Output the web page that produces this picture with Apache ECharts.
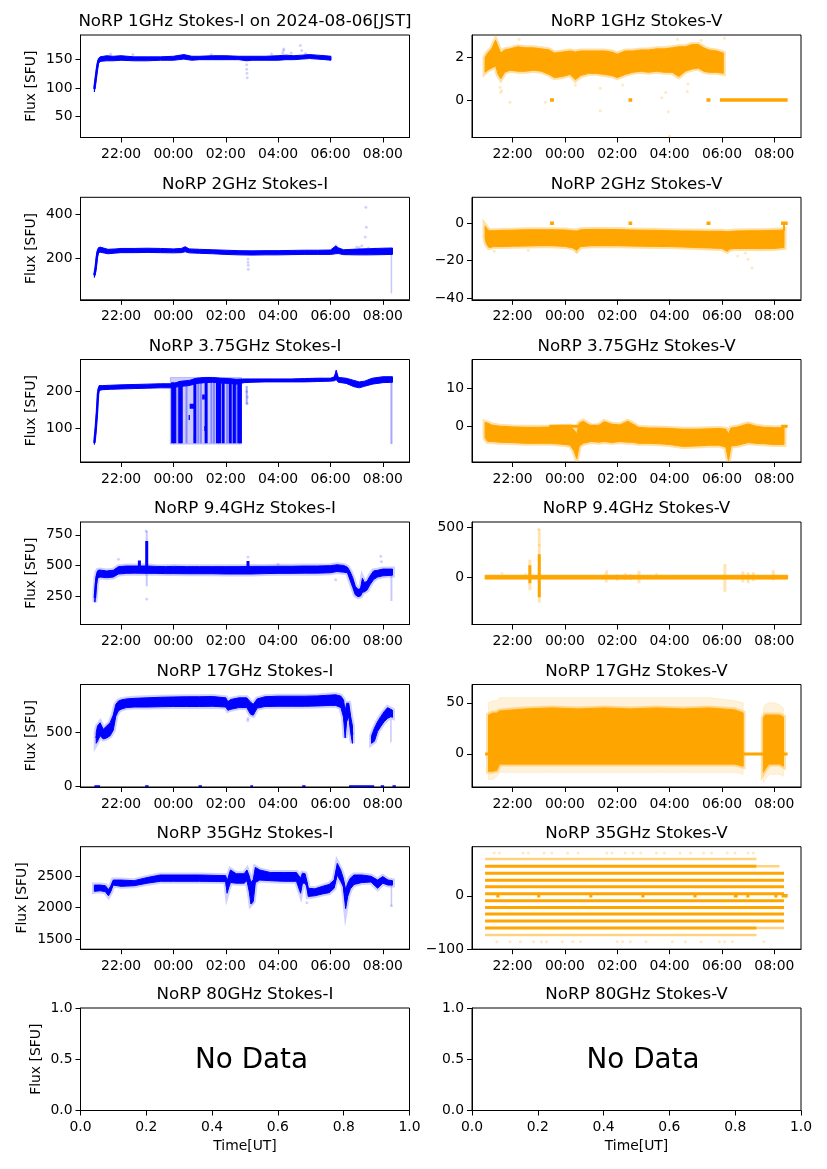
<!DOCTYPE html>
<html><head><meta charset="utf-8">
<script src="https://cdn.jsdelivr.net/npm/echarts@6/dist/echarts.min.js"></script>
<style>html,body{margin:0;padding:0;background:#fff}#c{width:827px;height:1169px}</style>
</head><body><div id="c"></div>
<script>
// ---------------- DATA (time in hours UT, 24 = 00:00 next day) ----------------
const TIME_TICKS = [22, 24, 26, 28, 30, 32];
const UNIT_TICKS_X = [0, 0.2, 0.4, 0.6, 0.8, 1.0];
const UNIT_TICKS_Y = [0, 0.5, 1.0];
const TITLES = ['NoRP 1GHz Stokes-I on 2024-08-06[JST]', 'NoRP 1GHz Stokes-V',
  'NoRP 2GHz Stokes-I', 'NoRP 2GHz Stokes-V', 'NoRP 3.75GHz Stokes-I', 'NoRP 3.75GHz Stokes-V',
  'NoRP 9.4GHz Stokes-I', 'NoRP 9.4GHz Stokes-V', 'NoRP 17GHz Stokes-I', 'NoRP 17GHz Stokes-V',
  'NoRP 35GHz Stokes-I', 'NoRP 35GHz Stokes-V', 'NoRP 80GHz Stokes-I', 'NoRP 80GHz Stokes-V'];
const Y_RANGES = [[12.5,193.6],[-1.76,3.05],[12,475],[-41,13.9],[9.7,286.5],[-9.4,17.5],[18,854],[-470,550],
  [-3,943],[-32.4,67.9],[1341,2970],[-100.5,92.5],[0,1],[0,1]];
const Y_TICKS = [[50,100,150],[0,2],[200,400],[-40,-20,0],[100,200],[0,10],[250,500,750],[0,500],
  [0,500],[0,50],[1500,2000,2500],[-100,0],UNIT_TICKS_Y,UNIT_TICKS_Y];

// 1 GHz I
const p1i_t  = [20.98,21.03,21.08,21.13,21.2,21.45,21.7,22.0,22.5,23.0,23.5,24.0,24.4,24.7,25.0,25.5,26.0,26.5,26.8,27.0,27.5,28.0,28.3,28.6,28.9,29.2,29.5,29.8,30.02];
const p1i_lo = [93,110,128,143,147,148,148,149,148,148,149,149,151,149,150,150,150,150,148,149,149,149,150,150,151,152,151,150,149];
const p1i_hi = [104,122,140,152,155,157,156,157,155,155,155,156,159,156,156,157,157,156,156,156,156,157,158,157,158,159,158,157,156];
const p1i_out = [[26.8,141],[26.8,133],[26.81,126],[26.82,118],[28.18,162],[28.2,166],[28.22,169],[28.85,175],[28.9,166],[27.75,160],[29.05,161],[22.45,159],[25.45,159],[21.6,160],[28.5,162]];
// 1 GHz V
const p1v_t  = [20.95,21.05,21.2,21.35,21.45,21.55,21.7,21.9,22.2,22.5,22.8,23.1,23.4,23.6,23.9,24.2,24.4,24.6,24.9,25.2,25.5,25.8,26.0,26.3,26.6,26.9,27.2,27.5,27.8,28.1,28.35,28.6,28.85,29.1,29.3,29.5,29.8,30.05];
const p1v_hi = [2.0,2.2,2.4,2.8,2.5,2.2,2.35,2.4,2.5,2.45,2.45,2.4,2.35,2.2,2.25,2.3,2.25,2.3,2.3,2.3,2.3,2.25,2.15,2.3,2.3,2.35,2.35,2.4,2.4,2.45,2.5,2.5,2.6,2.6,2.45,2.35,2.3,2.2];
const p1v_lo = [1.3,1.4,1.5,1.6,1.2,1.0,1.3,1.4,1.35,1.35,1.4,1.35,1.2,1.05,1.1,1.2,0.95,1.15,1.25,1.25,1.2,1.15,1.05,1.2,1.3,1.35,1.3,1.35,1.3,1.3,1.1,1.35,1.45,1.5,1.35,1.3,1.3,1.25];
const p1v_zero = [[23.43,23.58,0],[26.43,26.57,0],[29.41,29.56,0],[29.92,32.51,0]];
const p1v_out = [[21.52,0.6],[21.55,0.35],[21.58,0.45],[21.9,-0.1],[23.25,-0.1],[25.35,0.55],[25.35,-0.5],[27.85,0.35],[27.95,-0.55],[28.0,-1.7],[28.7,0.75],[28.68,0.4],[28.3,2.85],[30.1,2.9],[22.25,2.85],[29.2,2.8],[27.7,0.1],[26.2,0.7],[24.4,0.7]];
// 2 GHz I
const p2i_t  = [20.98,21.03,21.08,21.13,21.2,21.5,21.8,22.0,22.5,23.0,23.5,24.0,24.3,24.45,24.6,25.0,25.5,26.0,26.5,27.0,27.5,28.0,28.5,29.0,29.5,30.0,30.2,30.3,30.5,31.0,31.5,32.0,32.37];
const p2i_lo = [113,140,190,225,227,220,223,225,225,226,225,224,225,229,224,222,220,217,215,214,215,215,216,217,217,217,220,221,216,215,215,216,217];
const p2i_hi = [132,172,230,247,250,240,242,244,244,245,244,242,244,252,242,240,238,236,234,233,234,234,235,236,236,237,255,247,238,241,243,245,246];
const p2i_out = [[26.85,196],[26.85,182],[26.86,168],[26.86,150],[31.35,430],[31.37,340],[31.33,296],[31.2,256],[31.0,250],[31.45,246],[31.7,242],[30.22,256],[31.1,248]];
const p2i_faint = [[32.33,40,230]];
// 2 GHz V
const p2v_t  = [20.95,21.0,21.1,21.3,21.6,22.0,22.5,23.0,23.5,24.0,24.3,24.45,24.6,25.0,25.5,26.0,26.5,27.0,27.5,28.0,28.5,29.0,29.5,30.0,30.2,30.3,30.5,31.0,31.5,32.0,32.37];
const p2v_hi = [-1.5,-2.5,-4,-4,-3.8,-3.7,-3.5,-3.5,-3.5,-3.6,-4,-4.2,-3.5,-3.3,-3.3,-3.4,-3.6,-3.7,-3.8,-4,-4.1,-4.2,-4.3,-4.3,-4.5,-4.4,-4.2,-4,-4,-3.8,-3.6];
const p2v_lo = [-8,-11,-13,-12.5,-12.5,-12.3,-12.2,-12,-12,-12.4,-13.2,-14.5,-12.5,-12,-12,-12,-12.2,-12.3,-12.4,-12.5,-12.7,-13,-13.2,-13.5,-15,-13.8,-13.5,-13.5,-13.6,-13.5,-13];
const p2v_zero = [[23.43,23.58,0],[26.43,26.57,0],[29.41,29.56,0],[32.26,32.51,0]];
const p2v_step = [[32.37,-4,0]];
const p2v_out = [[31.0,-19.3],[31.15,-23.9],[30.6,-17.5],[21.3,-15],[22.6,-14.5],[24.45,-15.5],[30.9,-16]];
// 3.75 GHz I
const p3i_t  = [20.98,21.03,21.08,21.12,21.16,21.3,21.6,22.0,22.5,23.0,23.5,23.9,24.1,24.3,24.6,24.9,25.2,25.5,25.8,26.1,26.4,26.7,27.0,27.5,28.0,28.5,29.0,29.5,30.0,30.15,30.22,30.3,30.6,30.9,31.1,31.3,31.6,32.0,32.37];
const p3i_lo = [57,85,130,185,203,205,206,207,208,209,210,210,212,214,216,222,224,225,223,222,220,224,225,226,226,226,226,227,228,229,232,225,222,213,210,214,220,224,225];
const p3i_hi = [66,110,160,205,216,216,217,218,219,220,221,221,224,228,230,236,238,238,236,235,233,234,234,234,234,234,235,236,236,240,258,238,236,230,226,228,236,240,240];
const p3i_gap_t = [23.88,26.6];
const p3i_gap_lo = [58,58];
const p3i_gap_hi = [238,238];
const p3i_bars = [[23.97,60,225],[24.04,60,222],[24.24,60,228],[24.3,60,228],[24.82,60,235],[25.25,60,236],[25.68,60,236],[25.76,60,236],[25.9,60,235],[26.17,60,234],[26.33,60,233],[26.5,60,232],[26.56,60,232]];
const p3i_blobs = [[24.62,24.82,160],[25.1,25.2,185],[24.78,24.86,75],[25.18,25.24,100],[24.58,24.63,130]];
const p3i_faint = [[26.8,165,215],[32.33,58,230],[24.12,60,225],[24.5,60,230],[24.95,60,236],[25.05,60,236],[25.45,60,236],[25.55,60,236],[26.05,60,234],[26.25,60,234],[26.42,60,233]];
const p3i_out = [[26.82,168],[26.8,200],[26.83,185]];
// 3.75 GHz V
const p3v_t  = [20.95,21.05,21.2,21.5,22.0,22.5,23.0,23.5,24.0,24.2,24.35,24.45,24.55,24.7,25.0,25.3,25.5,25.8,26.1,26.4,26.6,26.8,27.2,27.6,28.0,28.5,29.0,29.5,29.9,30.15,30.25,30.35,30.6,31.0,31.3,31.6,32.0,32.37];
const p3v_hi = [1.0,0.8,0.3,0,-0.2,-0.3,-0.3,-0.2,0,0,-1,-2,0.8,1.3,0,0.2,1.2,0.5,0.3,1.3,0.5,-0.3,-0.5,-0.5,-0.6,-0.8,-0.8,-0.7,-0.6,-0.8,-2,-0.5,-0.2,0.6,0,-0.3,-0.4,-0.4];
const p3v_lo = [-3,-4,-4,-4.2,-4.3,-4.5,-4.5,-4.5,-4.8,-5,-6.5,-8.5,-5.2,-4.5,-4,-4.2,-4,-4.3,-4,-4.2,-4.2,-4.5,-4.5,-4.6,-4.8,-5.3,-5.2,-5,-5,-5.5,-9,-5.2,-5,-4.3,-4.5,-4.6,-4.8,-4.8];
const p3v_zero = [[23.4,26.7,0],[32.26,32.51,0]];
// 9.4 GHz I
const p9i_t  = [21.0,21.04,21.08,21.12,21.2,21.45,21.7,21.9,22.2,22.5,23.0,23.3,23.7,24.0,24.5,25.0,25.5,26.0,26.5,27.0,27.5,28.0,28.5,29.0,29.5,30.0,30.25,30.5,30.65,30.75,30.85,30.95,31.05,31.15,31.22,31.3,31.4,31.5,31.65,31.8,32.0,32.37];
const p9i_lo = [200,300,380,400,405,400,405,430,435,437,435,435,433,433,432,432,432,430,430,430,433,435,435,437,437,440,450,445,440,380,320,260,245,250,280,285,300,340,385,405,415,420];
const p9i_hi = [270,400,445,460,462,455,460,490,495,495,495,492,490,492,490,490,490,490,490,492,492,493,493,495,495,498,505,500,485,450,400,330,305,310,395,360,370,410,455,460,470,470];
const p9i_spikes = [[22.7,450,540],[22.98,440,700],[26.85,455,535]];
const p9i_faint = [[22.98,330,780],[32.33,210,470]];
const p9i_out = [[21.9,550],[26.85,568],[30.2,382],[31.92,574],[31.95,530],[22.98,227],[22.96,780],[28.0,510]];
// 9.4 GHz V
const p9v_t  = [20.95,24.0,28.0,32.51];
const p9v_lo = [-18,-18,-18,-18];
const p9v_hi = [20,20,20,20];
const p9v_spikes = [[22.66,-60,120],[23.02,-200,230]];
const p9v_faint = [[23.02,-253,480],[22.66,-130,175],[25.58,-50,50],[26.0,-35,30],[26.3,-30,40],[26.5,-30,30],[26.83,-60,63],[30.11,-143,133],[30.8,-50,60],[31.0,-60,50],[31.2,-40,50],[31.96,-30,70]];
const p9v_out = [[23.02,320],[23.0,480],[22.5,30],[21.6,40],[25.6,60],[27.5,30]];
// 17 GHz I
const p17i_t  = [21.05,21.1,21.2,21.32,21.45,21.58,21.7,21.8,21.9,22.0,22.2,22.5,23.0,23.5,24.0,24.5,25.0,25.5,26.0,26.08,26.2,26.5,26.8,26.95,27.05,27.2,27.5,28.0,28.5,29.0,29.5,30.0,30.2,30.4,30.5,30.56,30.62,30.7,30.77,30.84];
const p17i_lo = [400,420,470,440,450,470,520,650,700,715,730,735,735,738,740,740,740,742,735,705,715,730,730,668,660,725,740,742,742,742,745,750,750,730,640,450,600,650,500,400];
const p17i_hi = [500,560,590,530,560,590,660,760,790,800,810,815,820,825,828,830,830,832,820,785,805,820,820,780,760,810,830,835,835,835,838,845,848,835,800,700,770,770,650,560];
const p17i_t2  = [31.57,31.68,31.8,31.92,32.05,32.18,32.3,32.37];
const p17i_lo2 = [400,420,510,555,600,630,645,640];
const p17i_hi2 = [470,540,600,646,692,729,715,705];
const p17i_zero = [[20.98,21.2,0],[22.92,23.05,0],[24.96,25.09,0],[26.94,27.04,0],[28.92,29.05,0],[30.71,31.67,0],[31.92,32.05,0],[32.37,32.5,0]];
const p17i_faint = [[32.31,410,620]];
const p17i_out = [[26.85,630],[26.84,610]];
// 17 GHz V
const p17v_t1 = [21.08,21.25,21.4,21.5,22.5,23.5,24.5,25.5,26.5,27.5,28.5,29.5,30.5,30.81];
const p17v_lo1 = [-17,-17,-16,-10,-10,-10,-10,-10,-10,-10,-10,-10,-10,-12];
const p17v_hi1 = [38,40,40,42,44,45,44,45,44,45,44,45,43,40];
const p17v_olo1 = [-25,-25,-22,-18,-18,-18,-18,-18,-18,-18,-18,-18,-18,-20];
const p17v_ohi1 = [50,52,52,55,55,55,55,55,55,55,55,55,52,50];
const p17v_t2 = [31.58,31.65,31.8,32.0,32.2,32.35];
const p17v_lo2 = [-18,-15,-10,-10,-10,-12];
const p17v_hi2 = [35,38,38,38,38,36];
const p17v_olo2 = [-28,-25,-20,-20,-20,-22];
const p17v_ohi2 = [45,48,50,50,48,45];
const p17v_zero = [[20.95,21.08,0],[30.81,31.58,0],[32.35,32.51,0]];
// 35 GHz I
const p35i_t  = [20.98,21.2,21.4,21.52,21.6,21.7,22.0,22.5,23.0,23.5,24.0,25.0,26.0,26.05,26.12,26.18,26.4,26.7,26.81,26.9,26.96,27.05,27.13,27.3,27.7,28.2,28.7,28.86,28.93,29.03,29.1,29.15,29.4,29.7,29.95,30.14,30.26,30.39,30.49,30.58,30.66,30.76,30.9,31.2,31.55,31.8,32.0,32.2,32.37];
const p35i_lo = [2260,2270,2255,2190,2250,2360,2340,2350,2390,2420,2420,2420,2415,2230,2330,2400,2390,2390,2430,2250,2060,2100,2400,2440,2430,2420,2420,2230,2390,2390,2330,2180,2190,2220,2240,2310,2520,2420,2340,1985,2180,2300,2370,2400,2410,2310,2390,2360,2360];
const p35i_hi = [2360,2360,2350,2290,2340,2440,2440,2430,2480,2520,2520,2520,2510,2420,2520,2600,2540,2540,2600,2500,2400,2450,2640,2600,2560,2560,2560,2470,2550,2540,2420,2310,2300,2340,2370,2440,2705,2600,2470,2290,2390,2470,2520,2520,2500,2440,2495,2440,2430];
const p35i_faint = [[32.33,2030,2380]];
const p35i_out = [[29.1,2080],[27.0,2070],[32.33,2030]];
// 35 GHz V (quantised levels)
const p35v_levels = [55.6,42.5,29.4,16.9,3.75,-9.4,-21.9,-34.4,-47.5,-60.6];
const p35v_start  = [20.95,20.95,20.95,20.95,20.95,20.95,20.95,20.95,20.95,20.95];
const p35v_end    = [31.32,32.37,32.37,32.37,32.37,32.37,32.37,32.37,32.37,31.32];
const p35v_light  = [[31.32,32.2,55.6],[31.32,32.37,-60.6],[20.95,31.32,69.4],[20.95,31.32,-73.75]];
const p35v_top_t  = [21.3,21.5,22.4,22.6,23.2,23.5,24.1,24.5,25.6,25.8,26.3,26.6,26.9,27.5,27.8,28.4,28.8,29.3,29.6,30.2,30.5,31.0,31.2];
const p35v_bot_t  = [21.4,21.9,22.3,22.8,23.1,23.3,23.9,24.3,24.6,26.0,26.2,26.5,27.1,28.1,28.6,29.2,29.9,30.1,30.4,31.6];
const p35v_top_v  = 80.6, p35v_bot_v = -86.3;
const p35v_zero = [[21.38,21.5,0],[22.94,23.06,0],[24.93,25.05,0],[26.92,27.04,0],[28.91,29.03,0],[30.45,30.6,0],[30.93,31.05,0],[32.0,32.12,0],[32.28,32.51,0]];

// ---------------- LAYOUT ----------------
const GRID_X = [80.5, 472], GRID_W = 329, GRID_H = 102.5;
const GRID_TOP = [35, 197.3, 359.5, 522, 684.5, 846.7, 1008];
const NAME_GAP = [42, 42, 42, 42, 42, 51, 37];
const X_MIN = 20.45, X_MAX = 33.02;
const FONT = 'DejaVu Sans';
const BLUE = '#0000ff', ORANGE = '#ffa500';
const BLUE_F = 'rgba(0,0,255,0.22)', ORANGE_F = 'rgba(255,165,0,0.3)';

const fmtTime = v => { const h = ((Math.round(v) % 24) + 24) % 24; return (h < 10 ? '0' : '') + h + ':00'; };
const fmtNum = v => v < 0 ? '\u2212' + (-v) : String(v);
const fmt1 = v => v.toFixed(1);

const grids = [], xAxes = [], yAxes = [], titles = [], series = [];
for (let r = 0; r < 7; r++) for (let c = 0; c < 2; c++) {
  const g = r * 2 + c;
  grids.push({left: GRID_X[c], top: GRID_TOP[r], width: GRID_W, height: GRID_H, show: true,
    borderColor: '#000', borderWidth: 1, backgroundColor: 'transparent'});
  const isUnit = r === 6;
  const xt = isUnit ? UNIT_TICKS_X : TIME_TICKS;
  xAxes.push({gridIndex: g, type: 'value', min: isUnit ? 0 : X_MIN, max: isUnit ? 1 : X_MAX,
    axisLine: {show: true, onZero: false, lineStyle: {color: '#000', width: 1}},
    axisTick: {show: true, length: 5, customValues: xt, lineStyle: {color: '#000', width: 1}},
    axisLabel: {show: true, customValues: xt, formatter: isUnit ? fmt1 : fmtTime, color: '#000',
      fontSize: 13.9, fontFamily: FONT, margin: 10},
    splitLine: {show: false},
    name: isUnit ? 'Time[UT]' : '', nameLocation: 'middle', nameGap: 29,
    nameTextStyle: {fontSize: 13.9, color: '#000', fontFamily: FONT}});
  yAxes.push({gridIndex: g, type: 'value', min: Y_RANGES[g][0], max: Y_RANGES[g][1],
    axisLine: {show: true, onZero: false, lineStyle: {color: '#000', width: 1}},
    axisTick: {show: true, length: 5, customValues: Y_TICKS[g], lineStyle: {color: '#000', width: 1}},
    axisLabel: {show: true, customValues: Y_TICKS[g], formatter: isUnit ? fmt1 : fmtNum, color: '#000',
      fontSize: 13.9, fontFamily: FONT, margin: 8},
    splitLine: {show: false},
    name: c === 0 ? 'Flux [SFU]' : '', nameLocation: 'middle', nameGap: NAME_GAP[r],
    nameTextStyle: {fontSize: 13.9, color: '#000', fontFamily: FONT}});
  titles.push({text: TITLES[g], left: GRID_X[c] + GRID_W / 2, top: GRID_TOP[r] - 21.5, textAlign: 'center', padding: 0,
    textStyle: {fontSize: 16.7, fontWeight: 'normal', color: '#000', fontFamily: FONT}});
}

function band(g, t, lo, hi, color, fringe) {
  series.push({type: 'custom', xAxisIndex: g, yAxisIndex: g, silent: true, clip: true, z: 2,
    data: t.map((x, i) => [x, lo[i], hi[i]]), encode: {x: 0, y: [1, 2]},
    renderItem: (params, api) => {
      if (params.dataIndexInside !== 0) return null;
      const pts = [];
      for (let i = 0; i < t.length; i++) pts.push(api.coord([t[i], hi[i]]));
      for (let i = t.length - 1; i >= 0; i--) pts.push(api.coord([t[i], lo[i]]));
      const kids = [];
      if (fringe) kids.push({type: 'polygon', shape: {points: pts}, style: {fill: 'none', stroke: fringe, lineWidth: 5}});
      kids.push({type: 'polygon', shape: {points: pts}, style: {fill: color, stroke: color, lineWidth: 1}});
      return {type: 'group', children: kids};
    }});
}
function mid(g, t, lo, hi, color, w) {
  series.push({type: 'line', xAxisIndex: g, yAxisIndex: g, silent: true, showSymbol: false, z: 3,
    data: t.map((x, i) => [x, (lo[i] + hi[i]) / 2]), lineStyle: {color: color, width: w}, clip: true});
}
function vbars(g, arr, color, w) {
  series.push({type: 'custom', xAxisIndex: g, yAxisIndex: g, silent: true, clip: true, z: 4,
    data: arr, encode: {x: 0, y: [1, 2]},
    renderItem: (params, api) => {
      const a = api.coord([api.value(0), api.value(2)]), b = api.coord([api.value(0), api.value(1)]);
      return {type: 'rect', shape: {x: a[0] - w / 2, y: a[1], width: w, height: b[1] - a[1]}, style: {fill: color}};
    }});
}
function hsegs(g, arr, color, h) {
  series.push({type: 'custom', xAxisIndex: g, yAxisIndex: g, silent: true, clip: true, z: 4,
    data: arr, encode: {x: [0, 1], y: 2},
    renderItem: (params, api) => {
      const a = api.coord([api.value(0), api.value(2)]), b = api.coord([api.value(1), api.value(2)]);
      return {type: 'rect', shape: {x: a[0], y: a[1] - h / 2, width: b[0] - a[0], height: h}, style: {fill: color}};
    }});
}
function dots(g, arr, color, size) {
  series.push({type: 'scatter', xAxisIndex: g, yAxisIndex: g, silent: true, z: 5, symbol: 'circle',
    symbolSize: size || 3, data: arr, itemStyle: {color: color}});
}

const ORANGE_FR = 'rgba(255,165,0,0.35)', BLUE_FR = 'rgba(0,0,255,0.18)';
// 1 GHz
band(0, p1i_t, p1i_lo, p1i_hi, BLUE); mid(0, p1i_t, p1i_lo, p1i_hi, BLUE, 2.5); dots(0, p1i_out, BLUE_F);
band(1, p1v_t, p1v_lo, p1v_hi, ORANGE, ORANGE_FR); hsegs(1, p1v_zero, ORANGE, 3.5); dots(1, p1v_out, ORANGE_F);
// 2 GHz
band(2, p2i_t, p2i_lo, p2i_hi, BLUE); mid(2, p2i_t, p2i_lo, p2i_hi, BLUE, 2.5); vbars(2, p2i_faint, BLUE_F, 1.5); dots(2, p2i_out, BLUE_F);
band(3, p2v_t, p2v_lo, p2v_hi, ORANGE, ORANGE_FR); hsegs(3, p2v_zero, ORANGE, 3.5); vbars(3, p2v_step, ORANGE, 2); dots(3, p2v_out, ORANGE_F);
// 3.75 GHz
band(4, p3i_gap_t, p3i_gap_lo, p3i_gap_hi, 'rgba(0,0,255,0.2)');
vbars(4, p3i_faint, 'rgba(0,0,255,0.35)', 2);
band(4, p3i_t, p3i_lo, p3i_hi, BLUE); mid(4, p3i_t, p3i_lo, p3i_hi, BLUE, 2.5);
vbars(4, p3i_bars, BLUE, 3); hsegs(4, p3i_blobs, BLUE, 5); dots(4, p3i_out, BLUE_F);
band(5, p3v_t, p3v_lo, p3v_hi, ORANGE, ORANGE_FR); hsegs(5, p3v_zero, ORANGE, 3);
// 9.4 GHz
band(6, p9i_t, p9i_lo, p9i_hi, BLUE, BLUE_FR); mid(6, p9i_t, p9i_lo, p9i_hi, BLUE, 2.5);
vbars(6, p9i_faint, BLUE_F, 2); vbars(6, p9i_spikes, BLUE, 3); dots(6, p9i_out, BLUE_F);
band(7, p9v_t, p9v_lo, p9v_hi, ORANGE); vbars(7, p9v_faint, ORANGE_F, 3); vbars(7, p9v_spikes, ORANGE, 3); dots(7, p9v_out, ORANGE_F);
// 17 GHz
band(8, p17i_t, p17i_lo, p17i_hi, BLUE, BLUE_FR); mid(8, p17i_t, p17i_lo, p17i_hi, BLUE, 2);
band(8, p17i_t2, p17i_lo2, p17i_hi2, BLUE, BLUE_FR); mid(8, p17i_t2, p17i_lo2, p17i_hi2, BLUE, 2);
hsegs(8, p17i_zero, BLUE, 3); vbars(8, p17i_faint, BLUE_F, 1.5); dots(8, p17i_out, BLUE_F);
band(9, p17v_t1, p17v_olo1, p17v_ohi1, 'rgba(255,165,0,0.14)'); band(9, p17v_t2, p17v_olo2, p17v_ohi2, 'rgba(255,165,0,0.14)');
band(9, p17v_t1, p17v_lo1, p17v_hi1, ORANGE, ORANGE_FR); band(9, p17v_t2, p17v_lo2, p17v_hi2, ORANGE, ORANGE_FR);
hsegs(9, p17v_zero, ORANGE, 3);
// 35 GHz
band(10, p35i_t, p35i_lo, p35i_hi, BLUE, BLUE_FR); mid(10, p35i_t, p35i_lo, p35i_hi, BLUE, 2);
vbars(10, p35i_faint, BLUE_F, 1.5); dots(10, p35i_out, BLUE_F);
hsegs(11, p35v_levels.map((v, i) => [p35v_start[i], p35v_end[i], v]), ORANGE, 3);
hsegs(11, p35v_light, 'rgba(255,165,0,0.5)', 2.5);
hsegs(11, p35v_zero, ORANGE, 3.5);
dots(11, p35v_top_t.map(x => [x, p35v_top_v]), ORANGE_F, 3);
dots(11, p35v_bot_t.map(x => [x, p35v_bot_v]), ORANGE_F, 3);

const chart = echarts.init(document.getElementById('c'), null, {renderer: 'canvas'});
chart.setOption({
  animation: false,
  textStyle: {fontFamily: FONT},
  title: titles, grid: grids, xAxis: xAxes, yAxis: yAxes, series: series,
  graphic: [0, 1].map(c => ({type: 'text', x: GRID_X[c] + GRID_W * 0.348, y: GRID_TOP[6] + GRID_H / 2 + 1.5, silent: true,
    style: {text: 'No Data', align: 'left', verticalAlign: 'middle', font: '27.8px "DejaVu Sans"', fill: '#000'}}))
});
</script></body></html>
